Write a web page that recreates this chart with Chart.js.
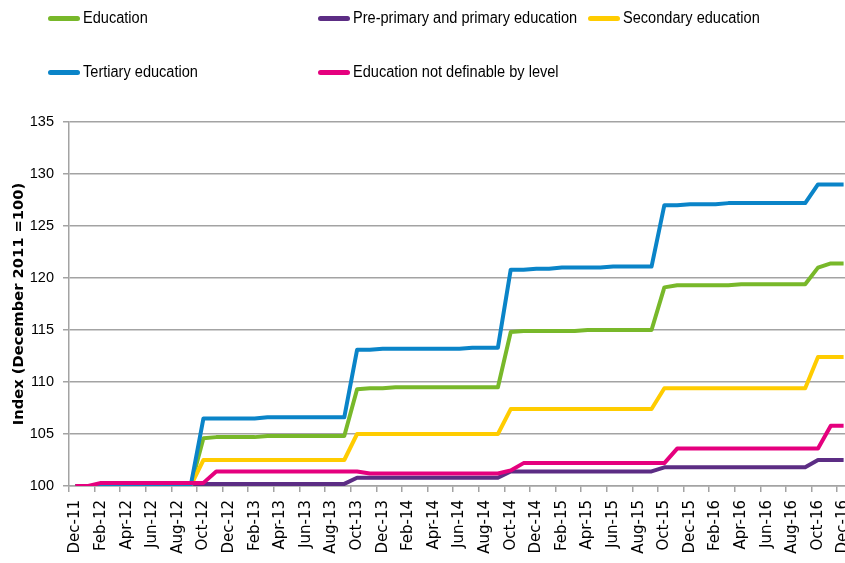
<!DOCTYPE html>
<html>
<head>
<meta charset="utf-8">
<script src="https://cdn.jsdelivr.net/npm/chart.js@4.4.1/dist/chart.umd.min.js"></script>
<style>
  html, body { margin: 0; padding: 0; background: #fff; overflow: hidden; width: 845px; height: 563px; }
  #wrap { position: relative; width: 845px; height: 563px; overflow: hidden; }
  #educChart { position: absolute; left: 0; top: 0; }
  #legend { position: absolute; left: 0; top: 0; width: 845px; height: 100px;
            font-family: 'Liberation Sans Narrow', 'Arial Narrow', 'Liberation Sans', sans-serif; font-size: 16px; color: #000; }
  .item { position: absolute; display: flex; align-items: center; height: 20px; white-space: nowrap; }
  .swatch { width: 32px; height: 5px; border-radius: 3px; margin-right: 3px; }
  .txt { display: inline-block; transform: scaleX(0.91); transform-origin: left center; }
</style>
</head>
<body>
<div id="wrap">
  <canvas id="educChart" width="850" height="563"></canvas>
  <div id="legend"></div>
</div>
<script>
// monthly index, December 2011 = 100
var months = ["Dec-11","Jan-12","Feb-12","Mar-12","Apr-12","May-12","Jun-12","Jul-12","Aug-12","Sep-12",
  "Oct-12","Nov-12","Dec-12","Jan-13","Feb-13","Mar-13","Apr-13","May-13","Jun-13","Jul-13","Aug-13","Sep-13",
  "Oct-13","Nov-13","Dec-13","Jan-14","Feb-14","Mar-14","Apr-14","May-14","Jun-14","Jul-14","Aug-14","Sep-14",
  "Oct-14","Nov-14","Dec-14","Jan-15","Feb-15","Mar-15","Apr-15","May-15","Jun-15","Jul-15","Aug-15","Sep-15",
  "Oct-15","Nov-15","Dec-15","Jan-16","Feb-16","Mar-16","Apr-16","May-16","Jun-16","Jul-16","Aug-16","Sep-16",
  "Oct-16","Nov-16","Dec-16"];

var education = [100,100,100,100,100,100,100,100,100,100,
  104.6,104.7,104.7,104.7,104.7,104.8,104.8,104.8,104.8,104.8,104.8,104.8,
  109.3,109.4,109.4,109.5,109.5,109.5,109.5,109.5,109.5,109.5,109.5,109.5,
  114.8,114.9,114.9,114.9,114.9,114.9,115.0,115.0,115.0,115.0,115.0,115.0,
  119.1,119.3,119.3,119.3,119.3,119.3,119.4,119.4,119.4,119.4,119.4,119.4,
  121.0,121.4,121.4];

var prePrimary = [100,100,100,100,100,100,100,100,100,100,
  100.2,100.2,100.2,100.2,100.2,100.2,100.2,100.2,100.2,100.2,100.2,100.2,
  100.8,100.8,100.8,100.8,100.8,100.8,100.8,100.8,100.8,100.8,100.8,100.8,
  101.4,101.4,101.4,101.4,101.4,101.4,101.4,101.4,101.4,101.4,101.4,101.4,
  101.8,101.8,101.8,101.8,101.8,101.8,101.8,101.8,101.8,101.8,101.8,101.8,
  102.5,102.5,102.5];

var secondary = [100,100,100,100,100,100,100,100,100,100,
  102.5,102.5,102.5,102.5,102.5,102.5,102.5,102.5,102.5,102.5,102.5,102.5,
  105.0,105.0,105.0,105.0,105.0,105.0,105.0,105.0,105.0,105.0,105.0,105.0,
  107.4,107.4,107.4,107.4,107.4,107.4,107.4,107.4,107.4,107.4,107.4,107.4,
  109.4,109.4,109.4,109.4,109.4,109.4,109.4,109.4,109.4,109.4,109.4,109.4,
  112.4,112.4,112.4];

var tertiary = [100,100,100,100,100,100,100,100,100,100,
  106.5,106.5,106.5,106.5,106.5,106.6,106.6,106.6,106.6,106.6,106.6,106.6,
  113.1,113.1,113.2,113.2,113.2,113.2,113.2,113.2,113.2,113.3,113.3,113.3,
  120.8,120.8,120.9,120.9,121.0,121.0,121.0,121.0,121.1,121.1,121.1,121.1,
  127.0,127.0,127.1,127.1,127.1,127.2,127.2,127.2,127.2,127.2,127.2,127.2,
  129.0,129.0,129.0];

var notByLevel = [100,100,100.3,100.3,100.3,100.3,100.3,100.3,100.3,100.3,
  100.3,101.4,101.4,101.4,101.4,101.4,101.4,101.4,101.4,101.4,101.4,101.4,
  101.4,101.2,101.2,101.2,101.2,101.2,101.2,101.2,101.2,101.2,101.2,101.2,
  101.5,102.2,102.2,102.2,102.2,102.2,102.2,102.2,102.2,102.2,102.2,102.2,
  102.2,103.6,103.6,103.6,103.6,103.6,103.6,103.6,103.6,103.6,103.6,103.6,
  103.6,105.8,105.8];

var yTicks = [100, 105, 110, 115, 120, 125, 130, 135];

var gridGrey = "#a3a3a3";
var narrow = "'Liberation Sans Narrow', 'Arial Narrow', 'Liberation Sans', sans-serif";

function series(label, data, color, order) {
  return {
    label: label,
    data: data,
    borderColor: color,
    backgroundColor: color,
    borderWidth: 4,
    pointRadius: 0,
    tension: 0,
    fill: false,
    order: order
  };
}

var ctx = document.getElementById("educChart").getContext("2d");
var chart = new Chart(ctx, {
  type: "line",
  data: {
    labels: months,
    datasets: [
      series("Education", education, "#78b82a", 5),
      series("Pre-primary and primary education", prePrimary, "#5c2d84", 4),
      series("Secondary education", secondary, "#ffcc00", 3),
      series("Tertiary education", tertiary, "#0a84c8", 2),
      series("Education not definable by level", notByLevel, "#e5007e", 1)
    ]
  },
  options: {
    responsive: false,
    animation: false,
    devicePixelRatio: 1,
    layout: { padding: { top: 122, left: 0, right: 0, bottom: 0 } },
    plugins: { legend: { display: false }, tooltip: { enabled: false } },
    elements: { line: { borderJoinStyle: "round", borderCapStyle: "butt" } },
    scales: {
      x: {
        offset: true,
        grid: {
          offset: true,
          drawOnChartArea: false,
          drawTicks: true,
          tickLength: 6,
          lineWidth: 1.5,
          color: function (c) { return c.index % 2 === 0 ? gridGrey : "rgba(0,0,0,0)"; }
        },
        border: { display: true, color: gridGrey, width: 1.5 },
        ticks: {
          autoSkip: false,
          minRotation: 90,
          maxRotation: 90,
          padding: 8,
          color: "#000",
          font: { family: "'DejaVu Sans'", size: 15 },
          callback: function (v, i) { return i % 2 === 0 ? months[i] : ""; }
        },
        afterFit: function (s) { s.height = 77; s.paddingLeft = 0; s.paddingRight = 0; }
      },
      y: {
        min: yTicks[0],
        max: yTicks[yTicks.length - 1],
        afterBuildTicks: function (s) { s.ticks = yTicks.map(function (v) { return { value: v }; }); },
        grid: { color: gridGrey, lineWidth: 1.5, tickLength: 6 },
        border: { display: true, color: gridGrey, width: 1.5 },
        ticks: { padding: 9, color: "#000", font: { family: narrow, size: 14.5 } },
        title: {
          display: true,
          text: "Index (December 2011 =100)",
          color: "#000",
          font: { family: "'DejaVu Sans'", size: 14.7, weight: "bold" },
          padding: { top: 10, bottom: 0 }
        },
        afterFit: function (s) { s.width = 69; s.paddingTop = 0; s.paddingBottom = 0; }
      }
    }
  }
});

// legend in the same spot as the original (3 columns, 2 rows)
var legendCols = [48, 318, 588];
var legendRows = [8, 62];
var legendBox = document.getElementById("legend");
chart.data.datasets.forEach(function (ds, i) {
  var item = document.createElement("div");
  item.className = "item";
  item.style.left = legendCols[i % 3] + "px";
  item.style.top = legendRows[Math.floor(i / 3)] + "px";
  var sw = document.createElement("span");
  sw.className = "swatch";
  sw.style.background = ds.borderColor;
  var tx = document.createElement("span");
  tx.className = "txt";
  tx.textContent = ds.label;
  item.appendChild(sw);
  item.appendChild(tx);
  legendBox.appendChild(item);
});
</script>
</body>
</html>
